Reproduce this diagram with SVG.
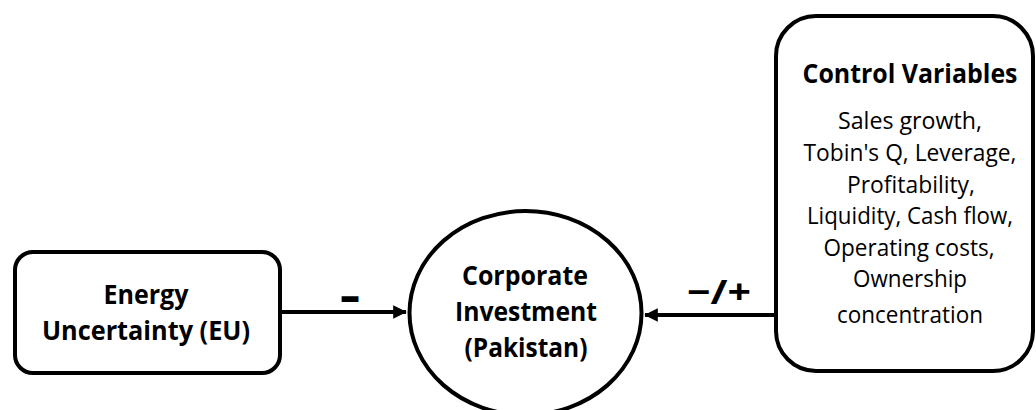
<svg xmlns="http://www.w3.org/2000/svg" width="1036" height="410" viewBox="0 0 1036 410">
  <style>
    .shape { fill: #ffffff; stroke: #000000; stroke-width: 4; }
    .edge { fill: none; stroke: #000000; stroke-width: 4; }
    text { font-family: "Open Sans", "Liberation Sans", sans-serif; fill: #000000; text-anchor: middle; }
    .title { font-weight: bold; font-size: 27px; }
    .item { font-size: 23px; }
    .sign { font-weight: bold; }
  </style>
  <defs>
    <marker id="head" markerWidth="4" markerHeight="4" refX="3.2" refY="2" orient="auto" markerUnits="strokeWidth">
      <path d="M0,0.3 L3.4,2 L0,3.7 Z" fill="#000000"/>
    </marker>
  </defs>

  <!-- connectors -->
  <g id="connectors">
    <line class="edge" x1="282" y1="312" x2="406" y2="312" marker-end="url(#head)"/>
    <line class="edge" x1="774" y1="315" x2="645" y2="315" marker-end="url(#head)"/>
    <text class="sign" x="350" y="313" font-size="52" textLength="20" lengthAdjust="spacingAndGlyphs">–</text>
    <text class="sign" x="719" y="304" font-size="34" textLength="64" lengthAdjust="spacingAndGlyphs">−/+</text>
  </g>

  <!-- driver: energy uncertainty -->
  <g id="node-eu">
    <rect class="shape" x="15" y="252" width="265" height="121" rx="18" ry="18"/>
    <text class="title" x="146" y="304" textLength="85" lengthAdjust="spacingAndGlyphs">Energy</text>
    <text class="title" x="146" y="340" textLength="208" lengthAdjust="spacingAndGlyphs">Uncertainty (EU)</text>
  </g>

  <!-- outcome: corporate investment -->
  <g id="node-investment">
    <ellipse class="shape" cx="525.5" cy="313" rx="116" ry="102"/>
    <text class="title" x="525" y="285" textLength="126" lengthAdjust="spacingAndGlyphs">Corporate</text>
    <text class="title" x="526" y="321" textLength="142" lengthAdjust="spacingAndGlyphs">Investment</text>
    <text class="title" x="526" y="357" textLength="123" lengthAdjust="spacingAndGlyphs">(Pakistan)</text>
  </g>

  <!-- control variables -->
  <g id="node-controls">
    <rect class="shape" x="776" y="16" width="257" height="355" rx="40" ry="40"/>
    <text class="title" x="910" y="83" font-size="26" textLength="215" lengthAdjust="spacingAndGlyphs">Control Variables</text>
    <text class="item" x="910" y="129" textLength="144" lengthAdjust="spacingAndGlyphs">Sales growth,</text>
    <text class="item" x="910" y="161" textLength="213" lengthAdjust="spacingAndGlyphs">Tobin's Q, Leverage,</text>
    <text class="item" x="911" y="193" textLength="128" lengthAdjust="spacingAndGlyphs">Profitability,</text>
    <text class="item" x="910" y="224" textLength="206" lengthAdjust="spacingAndGlyphs">Liquidity, Cash flow,</text>
    <text class="item" x="909" y="256" textLength="171" lengthAdjust="spacingAndGlyphs">Operating costs,</text>
    <text class="item" x="910" y="287" textLength="114" lengthAdjust="spacingAndGlyphs">Ownership</text>
    <text class="item" x="910" y="323" textLength="146" lengthAdjust="spacingAndGlyphs">concentration</text>
  </g>
</svg>
